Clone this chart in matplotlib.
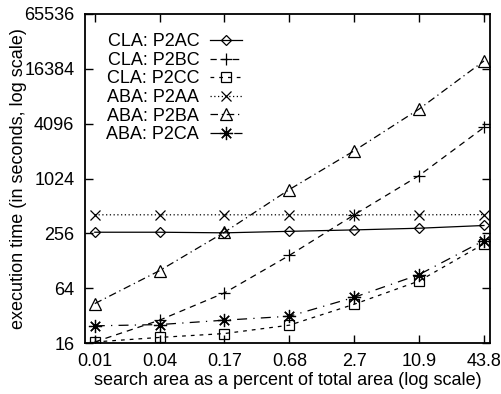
import matplotlib
matplotlib.use('Agg')
import matplotlib.pyplot as plt
import numpy as np

plt.rcParams['font.family'] = ['Liberation Sans', 'DejaVu Sans']

# search area (% of total area), roughly 4x steps
area = [0.0107, 0.0427, 0.171, 0.684, 2.74, 10.95, 43.8]
area_labels = ['0.01', '0.04', '0.17', '0.68', '2.7', '10.9', '43.8']

# execution time in seconds
p2ac = [264, 264, 260, 270, 280, 292, 313]
p2bc = [16.5, 28.6, 57, 147, 410, 1105, 3730]
p2cc = [16.5, 18.5, 20.4, 25.2, 42.8, 77, 197]
p2aa = [410, 410, 410, 410, 410, 410, 412]
p2ba = [43.5, 100, 264, 776, 2070, 5930, 20000]
p2ca = [24.8, 25.6, 28.6, 31.6, 51, 90.5, 214]

series = [
    ('CLA: P2AC', p2ac, 'D', '-', 5),
    ('CLA: P2BC', p2bc, '+', (0, (5, 4)), 8),
    ('CLA: P2CC', p2cc, 's', (0, (3, 4)), 7),
    ('ABA: P2AA', p2aa, 'x', (0, (1, 2)), 7.5),
    ('ABA: P2BA', p2ba, '^', (0, (6, 3, 1, 3)), 8),
    ('ABA: P2CA', p2ca, (8, 2, 0), (0, (8, 5, 1, 5)), 9.5),
]

fig = plt.figure(figsize=(5.02, 3.94), dpi=100)
ax = fig.add_axes([0.169, 0.129, 0.807, 0.8355])

for label, vals, marker, ls, ms in series:
    ax.plot(area, vals, color='black', lw=0.9, ls=ls, marker=marker,
            markersize=ms, markerfacecolor='none', markeredgecolor='black',
            markeredgewidth=0.9, label=label)

ax.set_xscale('log')
ax.set_yscale('log', base=2)
ax.set_xlim(0.00865, 49.8)
ax.set_ylim(16, 65536)

yt = [16, 64, 256, 1024, 4096, 16384, 65536]
ax.set_yticks(yt)
ax.set_yticklabels([str(v) for v in yt])
ax.set_xticks(area)
ax.set_xticklabels(area_labels)
ax.minorticks_off()

ax.tick_params(which='major', direction='in', length=6, width=1,
               top=True, right=True, labelsize=13)
ax.tick_params(axis='y', pad=7.5)
ax.tick_params(axis='x', pad=7)
for sp in ax.spines.values():
    sp.set_linewidth(1.3)

ax.set_xlabel('search area as a percent of total area (log scale)',
              fontsize=13, labelpad=1.5)
ax.set_ylabel('execution time (in seconds, log scale)', fontsize=13,
              labelpad=-2)

leg = ax.legend(loc='upper left', bbox_to_anchor=(0.022, 0.98),
                frameon=False, fontsize=13, markerfirst=False,
                handlelength=1.8, handletextpad=0.6, labelspacing=0.09,
                borderpad=0.2)

fig.savefig('out.png', dpi=100)
